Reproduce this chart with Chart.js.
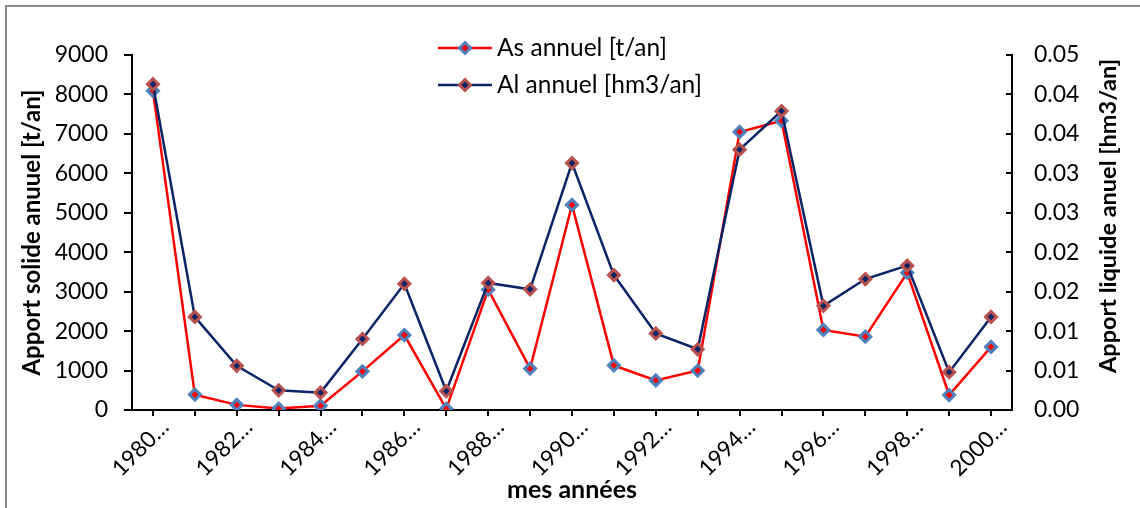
<!DOCTYPE html>
<html>
<head>
    <meta charset="utf-8">
    <title>Apport solide et liquide annuel</title>
    <script src="https://cdn.jsdelivr.net/npm/chart.js"></script>
    <style>
        html, body { margin: 0; padding: 0; background: #fff; }
        #wrap { position: relative; width: 1140px; height: 508px; }
        #frame { position: absolute; left: 5px; top: 5px; right: 0; bottom: 0;
                 border-left: 2px solid #8c8c8c; border-top: 2px solid #8c8c8c; pointer-events: none; }
    </style>
</head>
<body>
    <div id="wrap">
        <canvas id="myChart" width="1140" height="508"></canvas>
        <div id="frame"></div>
    </div>

    <script>
        // Data
        const years = ['1980', '1981', '1982', '1983', '1984', '1985', '1986', '1987', '1988', '1989', '1990',
                       '1991', '1992', '1993', '1994', '1995', '1996', '1997', '1998', '1999', '2000'];
        const asAnnuel = [8090, 390, 130, 35, 110, 980, 1900, 30, 3050, 1050, 5200,
                          1130, 750, 1000, 7050, 7330, 2030, 1860, 3480, 380, 1600];   // t/an
        const alAnnuel = [0.0413, 0.0118, 0.0056, 0.0025, 0.0022, 0.0090, 0.0160, 0.0024, 0.0161, 0.0153, 0.0313,
                          0.0171, 0.0097, 0.0077, 0.0330, 0.0379, 0.0132, 0.0166, 0.0183, 0.0048, 0.0118]; // hm3/an

        const leftTitle = 'Apport solide anuuel [t/an]';
        const rightTitle = 'Apport liquide anuel [hm3/an]';
        const xTitle = 'mes années';

        const FONT = 'Lato';

        // right axis title (reads bottom to top), inward ticks and the legend inside the plot
        const extras = {
            id: 'extras',
            afterDraw(chart) {
                const ctx = chart.ctx;
                const y1 = chart.scales.y1;
                ctx.save();
                ctx.strokeStyle = '#000';
                ctx.lineWidth = 2;
                y1.ticks.forEach(t => {
                    const py = Math.round(y1.getPixelForValue(t.value));
                    ctx.beginPath();
                    ctx.moveTo(y1.left - 6, py);
                    ctx.lineTo(y1.left, py);
                    ctx.stroke();
                });

                ctx.save();
                ctx.translate(1108, 216);
                ctx.rotate(-Math.PI / 2);
                ctx.font = 'bold 23.5px ' + FONT;
                ctx.textAlign = 'center';
                ctx.textBaseline = 'middle';
                ctx.fillStyle = '#000';
                ctx.fillText(rightTitle, 0, 0);
                ctx.restore();

                // legend
                chart.data.datasets.forEach((ds, i) => {
                    const ly = 48 + i * 37;
                    ctx.strokeStyle = ds.borderColor;
                    ctx.lineWidth = ds.borderWidth;
                    ctx.beginPath();
                    ctx.moveTo(438, ly);
                    ctx.lineTo(492, ly);
                    ctx.stroke();
                    ctx.fillStyle = ds.pointBackgroundColor;
                    ctx.strokeStyle = ds.pointBorderColor;
                    ctx.lineWidth = ds.pointBorderWidth;
                    Chart.helpers.drawPoint(ctx, {pointStyle: 'rectRot', radius: ds.pointRadius, rotation: 0, borderWidth: ds.pointBorderWidth}, 465, ly);
                    ctx.fillStyle = '#000';
                    ctx.font = '24.5px ' + FONT;
                    ctx.textAlign = 'left';
                    ctx.textBaseline = 'middle';
                    ctx.fillText(ds.label, 497, ly);
                });
                ctx.restore();
            }
        };

        var ctx = document.getElementById('myChart').getContext('2d');
        var myChart = new Chart(ctx, {
            type: 'line',
            data: {
                labels: years,
                datasets: [
                    {
                        label: 'As annuel [t/an]',
                        data: asAnnuel,
                        yAxisID: 'y',
                        borderColor: '#ff0000',
                        borderWidth: 2.5,
                        pointStyle: 'rectRot',
                        pointRadius: 5.5,
                        pointBorderWidth: 3,
                        pointBackgroundColor: '#ff0000',
                        pointBorderColor: '#4f81bd',
                        tension: 0,
                        order: 1
                    },
                    {
                        label: 'Al annuel [hm3/an]',
                        data: alAnnuel,
                        yAxisID: 'y1',
                        borderColor: '#0b2466',
                        borderWidth: 2.5,
                        pointStyle: 'rectRot',
                        pointRadius: 5.5,
                        pointBorderWidth: 3,
                        pointBackgroundColor: '#0b2466',
                        pointBorderColor: '#b9524f',
                        tension: 0,
                        order: 0
                    }
                ]
            },
            options: {
                responsive: false,
                animation: false,
                layout: { padding: { left: 16, top: 55, right: 0, bottom: 0 } },
                plugins: {
                    legend: { display: false },
                    tooltip: { enabled: false }
                },
                scales: {
                    x: {
                        offset: true,
                        grid: { drawOnChartArea: false, color: '#000', lineWidth: 2, tickLength: 6, offset: false },
                        border: { color: '#000', width: 2 },
                        ticks: {
                            autoSkip: false,
                            minRotation: 45,
                            maxRotation: 45,
                            padding: -2,
                            labelOffset: 12,
                            color: '#000',
                            font: { family: FONT, size: 22.5 },
                            callback: (v, i) => (i % 2 === 0 ? years[i] + '…' : '')
                        },
                        title: {
                            display: true,
                            text: xTitle,
                            color: '#000',
                            font: { family: FONT, size: 25, weight: 'bold' },
                            padding: { top: 0, bottom: 3 }
                        },
                        afterFit: s => { s.height = 98; }
                    },
                    y: {
                        position: 'left',
                        min: 0,
                        max: 9000,
                        grid: { drawOnChartArea: false, color: '#000', lineWidth: 2, tickLength: 8 },
                        border: { color: '#000', width: 2 },
                        ticks: {
                            stepSize: 1000,
                            padding: 16,
                            color: '#000',
                            font: { family: FONT, size: 23 },
                            callback: v => String(v)
                        },
                        title: {
                            display: true,
                            text: leftTitle,
                            color: '#000',
                            font: { family: FONT, size: 24, weight: 'bold' },
                            padding: 2
                        },
                        afterFit: s => { s.width = 116; }
                    },
                    y1: {
                        position: 'right',
                        min: 0,
                        max: 0.045,
                        grid: { drawOnChartArea: false, drawTicks: false },
                        border: { color: '#000', width: 2 },
                        ticks: {
                            stepSize: 0.005,
                            padding: 22,
                            color: '#000',
                            font: { family: FONT, size: 23 },
                            callback: v => (Math.round(v * 100 + 1e-9) / 100).toFixed(2)
                        },
                        afterFit: s => { s.width = 128; }
                    }
                }
            },
            plugins: [extras]
        });
    </script>
</body>
</html>
